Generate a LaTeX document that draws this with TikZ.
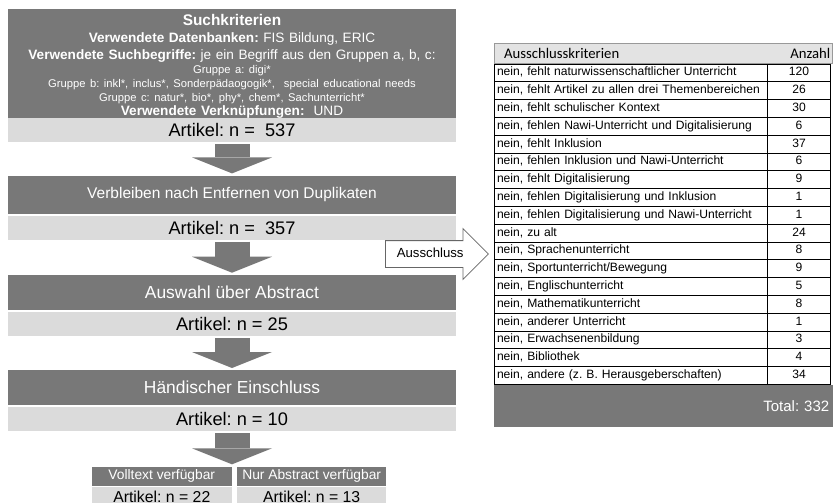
\documentclass[tikz,border=0pt]{standalone}
\usepackage{fontspec}
\setmainfont{Liberation Sans}
\newfontfamily\calibri{Carlito}
\usepackage{tikz}
\usetikzlibrary{calc,positioning,arrows.meta,shapes.arrows,matrix}
\frenchspacing
\definecolor{boxdark}{gray}{0.47}
\definecolor{boxlight}{gray}{0.86}
\definecolor{headfill}{gray}{0.89}
\newcommand{\fsize}[2]{\fontsize{#1}{#2}\selectfont}
\tikzstyle{darkbox}    = [rectangle, fill=boxdark, text=white, minimum width=448pt,
                          inner sep=0pt, font=\fsize{17.4}{20}]
\tikzstyle{lightbox}   = [rectangle, fill=boxlight, minimum width=448pt,
                          minimum height=24pt, inner sep=0pt, font=\fsize{18.2}{20}]
\tikzstyle{smalldark}  = [rectangle, fill=boxdark, text=white, minimum height=19pt,
                          inner sep=0pt, font=\fsize{13.8}{16}]
\tikzstyle{smalllight} = [rectangle, fill=boxlight, minimum height=19pt,
                          inner sep=0pt, font=\fsize{15.8}{18}]
\tikzstyle{flow}       = [draw=boxdark, line width=35pt, shorten <=2pt, shorten >=2pt,
                          -{Triangle[length=16pt, width=80pt, line width=0pt]}]
\tikzstyle{ausarrow}   = [single arrow, draw=black!60, line width=0.8pt, fill=white,
                          minimum height=103pt, single arrow head extend=12pt,
                          inner xsep=4pt, inner ysep=7pt, text height=9.2pt,
                          text depth=2.8pt, font=\fsize{13.2}{15}]
\tikzstyle{cell}       = [draw, line width=0.6pt, inner xsep=2.5pt, inner ysep=0pt,
                          minimum height=17.8pt, text height=9pt, text depth=2.7pt,
                          font=\fsize{12.1}{14}]
\tikzstyle{tabhead}    = [rectangle, draw=black!40, fill=headfill, minimum width=338pt,
                          minimum height=20pt, inner sep=0pt]
\tikzstyle{headtext}   = [inner sep=0pt, font=\calibri\fsize{14.7}{16}]
\tikzstyle{totalbox}   = [rectangle, fill=boxdark, text=white, minimum width=339pt,
                          minimum height=42pt, inner xsep=4pt, text width=331pt,
                          align=right, font=\fsize{15}{17}]

\begin{document}
\begin{tikzpicture}[x=1pt, y=-1pt, node distance=1.5pt]
		\useasboundingbox (0,0) rectangle (833,503);

		\node[darkbox, minimum height=108pt, text width=446pt, align=center,
			font=\fsize{13.6}{14}, anchor=north] (krit) at (232,9) {%
			{\fsize{15.4}{16}\rule{0pt}{16.5pt}\textbf{Suchkriterien}}\\[2.5pt]
			\textbf{Verwendete Datenbanken:} FIS Bildung, ERIC\\[3pt]
			\textbf{Verwendete Suchbegriffe:} je ein Begriff aus den Gruppen a, b, c:\\[0.5pt]
			{\fsize{11.2}{14}Gruppe a: digi*}\\
			{\fsize{11.2}{14}Gruppe b: inkl*, inclus*, Sonderpädaogogik*, \ special educational needs}\\
			{\fsize{11.2}{14}Gruppe c: natur*, bio*, phy*, chem*, Sachunterricht*}\\
			\textbf{Verwendete Verknüpfungen:} \ UND};
		\node[lightbox, anchor=north] (n537) at (232,118) {Artikel: n = \ 537};
		\node[darkbox, minimum height=38pt, font=\fsize{15.5}{18},
			below=33pt of n537] (dupl) {Verbleiben nach Entfernen von Duplikaten};
		\node[lightbox, below=of dupl] (n357) {Artikel: n = \ 357};
		\node[darkbox, minimum height=35pt, below=35pt of n357] (abstr) {Auswahl über Abstract};
		\node[lightbox, below=of abstr] (n25) {Artikel: n = 25};
		\node[darkbox, minimum height=35pt, below=34pt of n25] (hand) {Händischer Einschluss};
		\node[lightbox, below=of hand] (n10) {Artikel: n = 10};
		\node[smalldark, minimum width=140pt, below=35pt of n10.south,
			anchor=north east] (voll) {Volltext verfügbar};
		\node[smalldark, minimum width=149pt, right=5pt of voll] (nurabs) {Nur Abstract verfügbar};
		\node[smalllight, minimum width=140pt, below=1.5pt of voll] (n22) {Artikel: n = 22};
		\node[smalllight, minimum width=149pt, below=1.5pt of nurabs] (n13) {Artikel: n = 13};

		\draw[flow] (n537.south) -- (dupl.north);
		\draw[flow] (n357.south) -- (abstr.north);
		\draw[flow] (n25.south) -- (hand.north);
		\draw[flow] (n10.south) -- (voll.north east);

		\node[ausarrow, anchor=tail] (aus) at (385,254) {Ausschluss};

		\node[tabhead, anchor=north west] (hdr) at (494,43) {};
		\node[headtext, anchor=west] (hkrit) at ($(hdr.west)+(10,0)$) {Ausschlusskriterien};
		\node[headtext, anchor=east] (hanz) at ($(hdr.east)+(-2,0)$) {Anzahl};
		\matrix (tab) [matrix of nodes, anchor=north west, inner sep=0pt,
			row sep=-0.6pt, column sep=-0.6pt, nodes={cell},
			column 1/.style={nodes={text width=268pt, align=left}},
			column 2/.style={nodes={text width=58pt, align=center}}]
			at (hdr.south west) {
			nein, fehlt naturwissenschaftlicher Unterricht & 120 \\
			nein, fehlt Artikel zu allen drei Themenbereichen & 26 \\
			nein, fehlt schulischer Kontext & 30 \\
			nein, fehlen Nawi-Unterricht und Digitalisierung & 6 \\
			nein, fehlt Inklusion & 37 \\
			nein, fehlen Inklusion und Nawi-Unterricht & 6 \\
			nein, fehlt Digitalisierung & 9 \\
			nein, fehlen Digitalisierung und Inklusion & 1 \\
			nein, fehlen Digitalisierung und Nawi-Unterricht & 1 \\
			nein, zu alt & 24 \\
			nein, Sprachenunterricht & 8 \\
			nein, Sportunterricht/Bewegung & 9 \\
			nein, Englischunterricht & 5 \\
			nein, Mathematikunterricht & 8 \\
			nein, anderer Unterricht & 1 \\
			nein, Erwachsenenbildung & 3 \\
			nein, Bibliothek & 4 \\
			nein, andere (z. B. Herausgeberschaften) & 34 \\
		};
		\node[totalbox, anchor=north west] (total) at (tab.south west) {Total: 332};
	\end{tikzpicture}
\end{document}
